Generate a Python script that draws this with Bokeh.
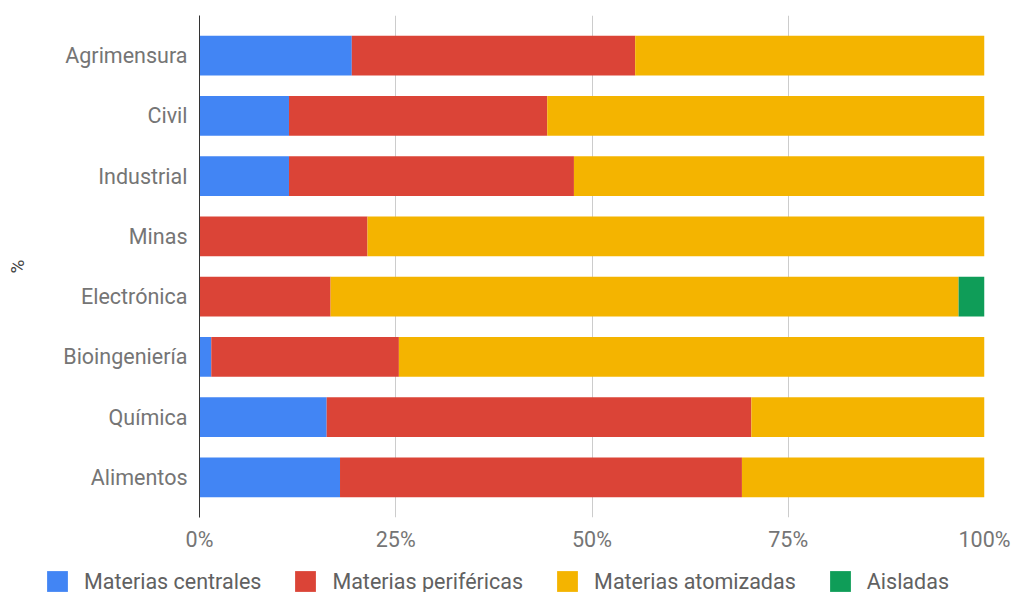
from bokeh.plotting import figure
from bokeh.models import ColumnDataSource, FactorRange, Range1d, FixedTicker, PrintfTickFormatter, Legend, LegendItem
from bokeh.embed import file_html
from bokeh.resources import INLINE

categories = ["Agrimensura", "Civil", "Industrial", "Minas", "Electrónica", "Bioingeniería", "Química", "Alimentos"]
centrales = [19.4, 11.4, 11.4, 0.0, 0.0, 1.5, 16.2, 17.9]
perifericas = [36.1, 32.9, 36.3, 21.4, 16.7, 23.9, 54.1, 51.2]
atomizadas = [44.5, 55.7, 52.3, 78.6, 80.0, 74.6, 29.7, 30.9]
aisladas = [0.0, 0.0, 0.0, 0.0, 3.3, 0.0, 0.0, 0.0]
series_names = ["Materias centrales", "Materias periféricas", "Materias atomizadas", "Aisladas"]
colors = ["#4285F4", "#DB4437", "#F4B400", "#0F9D58"]
x_ticks = [0, 25, 50, 75, 100]

source = ColumnDataSource(dict(cat=categories, c=centrales, p=perifericas, a=atomizadas, s=aisladas))
stackers = ["c", "p", "a", "s"]

FONT = "Roboto"
FS = "21.5px"
p = figure(width=1013, height=561, output_backend="svg", toolbar_location=None,
           y_range=FactorRange(factors=list(reversed(categories)), range_padding=0.0415),
           x_range=Range1d(0, 100),
           min_border_left=199, min_border_right=29, min_border_top=15, min_border_bottom=44)
p.outline_line_color = None

rs = p.hbar_stack(stackers, y="cat", height=0.66, color=colors, source=source, line_width=0)

p.xaxis.ticker = FixedTicker(ticks=x_ticks)
p.xaxis.formatter = PrintfTickFormatter(format="%d%%")
p.xaxis.axis_line_color = None
p.xaxis.major_tick_line_color = None
p.xaxis.minor_tick_line_color = None
p.xaxis.major_tick_out = 0
p.xaxis.major_tick_in = 0
p.xaxis.major_label_standoff = 9
p.xaxis.major_label_text_font = FONT
p.xaxis.major_label_text_font_size = FS
p.xaxis.major_label_text_color = "#757575"

p.yaxis.axis_line_color = "#333333"
p.yaxis.major_tick_line_color = None
p.yaxis.minor_tick_line_color = None
p.yaxis.major_tick_out = 0
p.yaxis.major_tick_in = 0
p.yaxis.major_label_standoff = 12
p.yaxis.major_label_text_font = FONT
p.yaxis.major_label_text_font_size = FS
p.yaxis.major_label_text_color = "#757575"
p.yaxis.axis_label = "%"
p.yaxis.axis_label_text_font = FONT
p.yaxis.axis_label_text_font_style = "normal"
p.yaxis.axis_label_text_font_size = "19px"
p.yaxis.axis_label_text_color = "#444444"
p.yaxis.axis_label_standoff = 31

p.xgrid.grid_line_color = "#cccccc"
p.xgrid.ticker = FixedTicker(ticks=x_ticks)
p.ygrid.grid_line_color = None

# Legend strip below the chart (separate root so its frame spans the full width)
lg = figure(width=1013, height=31, output_backend="svg", toolbar_location=None,
            x_range=Range1d(-2, -1), y_range=FactorRange(factors=categories),
            x_axis_location=None, y_axis_location=None,
            min_border_left=0, min_border_right=0, min_border_top=0, min_border_bottom=0)
lg.outline_line_color = None
lg.xgrid.grid_line_color = None
lg.ygrid.grid_line_color = None
lrs = lg.hbar_stack(stackers, y="cat", height=0.66, color=colors, source=source, line_width=0)

legend = Legend(items=[LegendItem(label=n, renderers=[r]) for n, r in zip(series_names, lrs)],
                orientation="horizontal", location=(44, -2),
                glyph_width=26, glyph_height=26, label_standoff=14, spacing=31,
                padding=0, margin=0, border_line_color=None, background_fill_alpha=0,
                label_text_font=FONT, label_text_font_size=FS, label_text_color="#616161",
                label_height=26)
lg.add_layout(legend, "center")

open("out.html", "w").write(file_html([p, lg], INLINE))
